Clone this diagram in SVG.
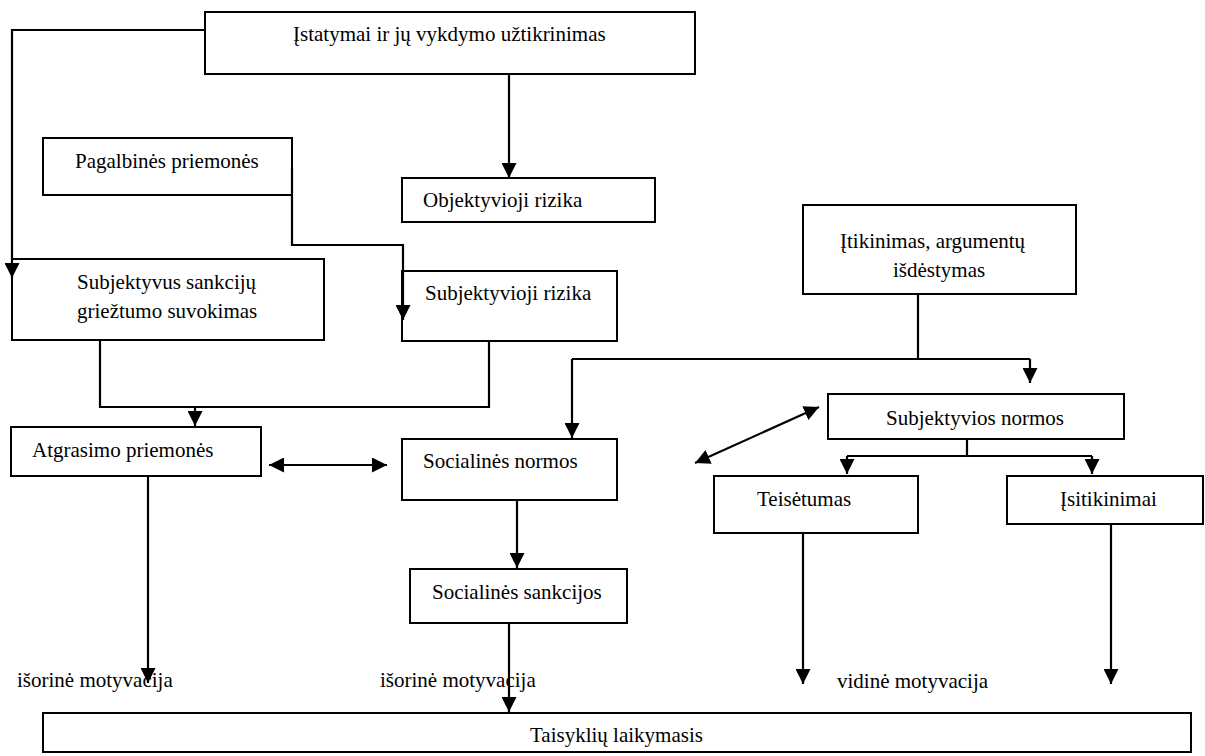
<svg xmlns="http://www.w3.org/2000/svg" width="1205" height="756" viewBox="0 0 1205 756">
<style>
.box{fill:#fff;stroke:#000;stroke-width:2}
.t{font-family:"Liberation Serif","Times New Roman",serif;font-size:21px;fill:#000}
.c{fill:none;stroke:#000;stroke-width:2.2}
.a{marker-end:url(#ah)}
.d{marker-start:url(#ah);marker-end:url(#ah)}
</style>
<defs>
<marker id="ah" viewBox="0 0 10 10" refX="10" refY="5" markerWidth="15" markerHeight="15" markerUnits="userSpaceOnUse" orient="auto-start-reverse">
<path d="M0,0 L10,5 L0,10 z" fill="#000"/>
</marker>
</defs>
<g id="n-istatymai"><rect class="box" x="205" y="12" width="490" height="62"/><text class="t" x="293" y="41">Įstatymai ir jų vykdymo užtikrinimas</text></g>
<g id="n-pagalbines"><rect class="box" x="43" y="138" width="249" height="57"/><text class="t" x="75" y="168">Pagalbinės priemonės</text></g>
<g id="n-objektyvioji"><rect class="box" x="402" y="178" width="253" height="44"/><text class="t" x="423" y="207">Objektyvioji rizika</text></g>
<g id="n-subjektyvus"><rect class="box" x="12" y="259" width="312" height="81"/><text class="t" x="77" y="289">Subjektyvus sankcijų</text><text class="t" x="77" y="318">griežtumo suvokimas</text></g>
<g id="n-subjektyvioji"><rect class="box" x="402" y="271" width="215" height="70"/><text class="t" x="425" y="300">Subjektyvioji rizika</text></g>
<g id="n-itikinimas"><rect class="box" x="803" y="205" width="273" height="89"/><text class="t" x="840" y="248">Įtikinimas, argumentų</text><text class="t" x="893" y="277">išdėstymas</text></g>
<g id="n-subjnormos"><rect class="box" x="828" y="394" width="296" height="45"/><text class="t" x="886" y="425">Subjektyvios normos</text></g>
<g id="n-atgrasimo"><rect class="box" x="11" y="427" width="250" height="49"/><text class="t" x="32" y="457">Atgrasimo priemonės</text></g>
<g id="n-socnormos"><rect class="box" x="402" y="439" width="215" height="61"/><text class="t" x="423" y="468">Socialinės normos</text></g>
<g id="n-teisetumas"><rect class="box" x="714" y="476" width="204" height="57"/><text class="t" x="757" y="506">Teisėtumas</text></g>
<g id="n-isitikinimai"><rect class="box" x="1007" y="476" width="196" height="48"/><text class="t" x="1060" y="506">Įsitikinimai</text></g>
<g id="n-socsankcijos"><rect class="box" x="410" y="569" width="217" height="54"/><text class="t" x="432" y="599">Socialinės sankcijos</text></g>
<g id="n-taisykliu"><rect class="box" x="43" y="713" width="1148" height="39"/><text class="t" x="530" y="742">Taisyklių laikymasis</text></g>
<g id="labels">
<text class="t" x="17" y="687">išorinė motyvacija</text>
<text class="t" x="380" y="687">išorinė motyvacija</text>
<text class="t" x="837" y="688">vidinė motyvacija</text>
</g>
<g id="connectors">
<path class="c a" d="M205,30 H12 V278"/>
<path class="c a" d="M509,74 V178"/>
<path class="c a" d="M292,168 V245 H403 V320"/>
<path class="c" d="M100,340 V407 H489 V341"/>
<path class="c a" d="M195,407 V426"/>
<path class="c" d="M918,294 V359 M572,359 H1030"/>
<path class="c a" d="M1030,359 V383"/>
<path class="c a" d="M572,359 V438"/>
<path class="c d" d="M819,407 L695,463"/>
<path class="c d" d="M269,465 H387"/>
<path class="c" d="M967,439 V456 M847,456 H1092"/>
<path class="c a" d="M847,456 V474"/>
<path class="c a" d="M1092,456 V474"/>
<path class="c a" d="M803,533 V684"/>
<path class="c a" d="M1111,524 V684"/>
<path class="c a" d="M148,476 V683"/>
<path class="c a" d="M517,500 V568"/>
<path class="c a" d="M509,623 V712"/>
</g>
</svg>
